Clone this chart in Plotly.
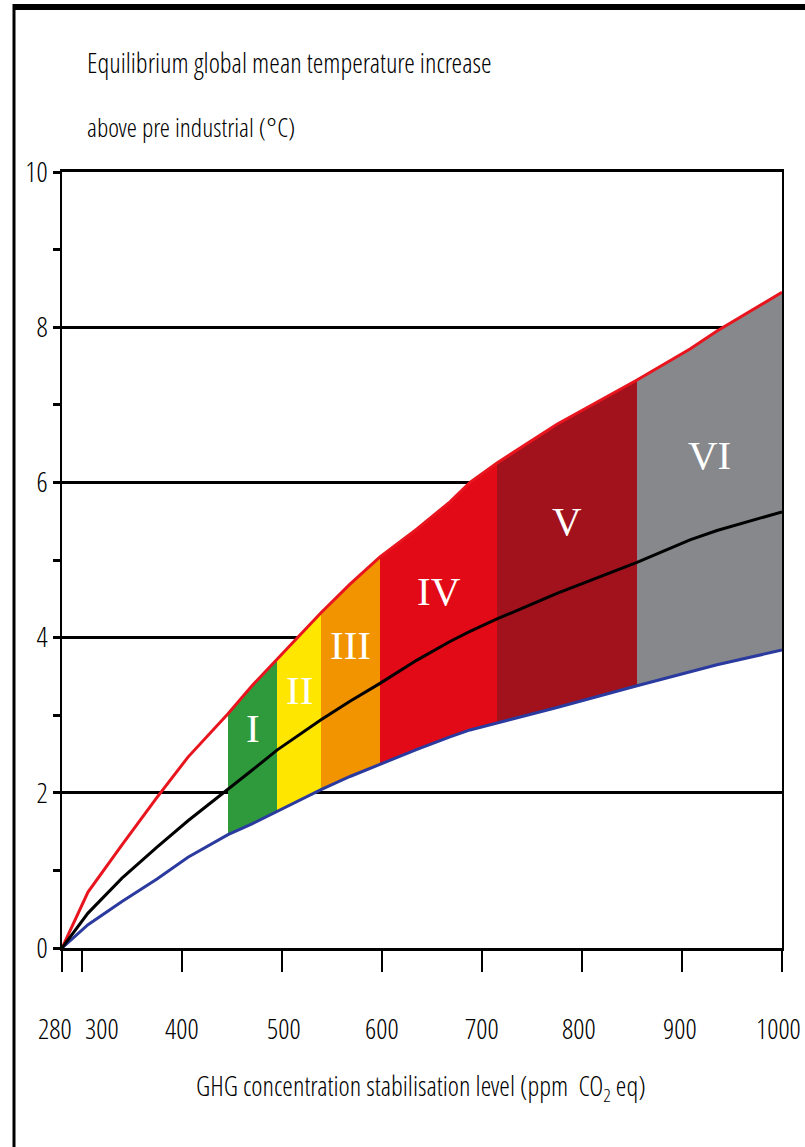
import plotly.graph_objects as go

# ---------------- data ----------------
ppm = [280, 306, 340, 375, 406, 446, 470, 495, 539, 568, 598, 635, 668, 688, 715, 775, 855, 908, 935, 1000]
upper = [0, 0.72, 1.33, 1.94, 2.46, 3.02, 3.38, 3.72, 4.32, 4.69, 5.04, 5.40, 5.75, 6.00, 6.25, 6.75, 7.32, 7.72, 7.95, 8.45]
best = [0, 0.45, 0.90, 1.30, 1.64, 2.04, 2.29, 2.55, 2.94, 3.18, 3.41, 3.71, 3.95, 4.08, 4.24, 4.57, 4.97, 5.26, 5.38, 5.62]
lower = [0, 0.30, 0.60, 0.89, 1.17, 1.46, 1.60, 1.76, 2.04, 2.21, 2.37, 2.56, 2.72, 2.81, 2.90, 3.10, 3.38, 3.56, 3.65, 3.84]

categories = ["I", "II", "III", "IV", "V", "VI"]
boundaries = [446, 495, 539, 598, 715, 855, 1000]
label_y = [2.84, 3.33, 3.90, 4.60, 5.50, 6.35]
band_colors = ["#2E9A3C", "#FFE600", "#F29400", "#E30A17", "#A1121C", "#86888B"]

x_ticks = [280, 300, 400, 500, 600, 700, 800, 900, 1000]
x_tick_labels = ["280", "300", "400", "500", "600", "700", "800", "900", "1000"]
x_label_shift = [-7, 20, 0, 2, 0, 0, -3, -2, -4]
y_major = [0, 2, 4, 6, 8, 10]
y_minor = [1, 3, 5, 7, 9]

# ---------------- layout geometry (pixels) ----------------
W, H = 805, 1147
L, R, T, B = 62, 782, 172, 948


def px(xp):
    return (xp - L) / (R - L)


def py(yp):
    return (B - yp) / (B - T)


SANS = "Open Sans Condensed Light, Open Sans Condensed, Liberation Sans, sans-serif"
WT = 300
SERIF = "Liberation Serif, Times New Roman, serif"

fig = go.Figure()

for i, cat in enumerate(categories):
    a, b = boundaries[i], boundaries[i + 1]
    idx = [k for k, v in enumerate(ppm) if a <= v <= b]
    xs = [ppm[k] for k in idx]
    up = [upper[k] for k in idx]
    lo = [lower[k] for k in idx]
    fig.add_trace(go.Scatter(
        x=xs + xs[::-1], y=up + lo[::-1], fill="toself", mode="lines",
        fillcolor=band_colors[i], line=dict(color=band_colors[i], width=1),
        hoverinfo="skip", showlegend=False))
    fig.add_annotation(x=(a + b) / 2, y=label_y[i], text=cat, showarrow=False,
                       font=dict(family=SERIF, size=41, color="white"),
                       xanchor="center", yanchor="middle")

fig.add_trace(go.Scatter(x=ppm, y=lower, mode="lines",
                         line=dict(color="#2B3A9E", width=3), showlegend=False))
fig.add_trace(go.Scatter(x=ppm, y=upper, mode="lines",
                         line=dict(color="#E8141E", width=3), showlegend=False))
fig.add_trace(go.Scatter(x=ppm, y=best, mode="lines",
                         line=dict(color="black", width=3), showlegend=False))

for v, t, s in zip(x_ticks, x_tick_labels, x_label_shift):
    fig.add_annotation(x=v, xref="x", y=py(1028), yref="paper", text=t,
                       showarrow=False, xshift=s, xanchor="center", yanchor="middle",
                       font=dict(size=28, color="black", family=SANS, weight=WT))

fig.add_annotation(x=px(85), y=py(62), xref="paper", yref="paper",
                   text="Equilibrium global mean temperature increase",
                   showarrow=False, xanchor="left", yanchor="middle",
                   font=dict(size=27, color="black", family=SANS, weight=WT))
fig.add_annotation(x=px(85), y=py(127), xref="paper", yref="paper",
                   text="above pre industrial (°C)",
                   showarrow=False, xanchor="left", yanchor="middle",
                   font=dict(size=26, color="black", family=SANS, weight=WT))
fig.add_annotation(x=px(421), y=py(1087), xref="paper", yref="paper",
                   text="GHG concentration stabilisation level (ppm  CO<sub>2</sub> eq)",
                   showarrow=False, xanchor="center", yanchor="middle",
                   font=dict(size=27, color="black", family=SANS, weight=WT))

fig.add_shape(type="rect", xref="paper", yref="paper",
              x0=px(13), x1=px(W + 5), y0=py(4), y1=py(10),
              fillcolor="black", line=dict(width=0), layer="above")
fig.add_shape(type="line", xref="paper", yref="paper",
              x0=px(14), x1=px(14), y0=py(4), y1=py(H + 5),
              line=dict(color="black", width=3), layer="above")

fig.update_xaxes(range=[280, 1000], tickvals=x_ticks, showticklabels=False,
                 ticks="outside", ticklen=21, tickwidth=1.5, tickcolor="black",
                 showline=True, linecolor="black", linewidth=3, mirror=True,
                 showgrid=False, zeroline=False)
fig.update_yaxes(range=[0, 10], tickvals=y_major, ticktext=[str(v) for v in y_major],
                 ticks="outside", ticklen=7, tickwidth=3, tickcolor="black",
                 tickfont=dict(size=28, color="black", family=SANS, weight=WT),
                 showgrid=True, gridcolor="black", gridwidth=3,
                 showline=True, linecolor="black", linewidth=1.5, mirror=True,
                 zeroline=False,
                 minor=dict(tickvals=y_minor, ticks="outside", ticklen=7,
                            tickwidth=3, tickcolor="black", showgrid=False))

fig.update_layout(width=W, height=H, margin=dict(l=L, r=W - R, t=T, b=H - B, pad=0),
                  paper_bgcolor="white", plot_bgcolor="white", showlegend=False)

fig.write_html("out.html")
